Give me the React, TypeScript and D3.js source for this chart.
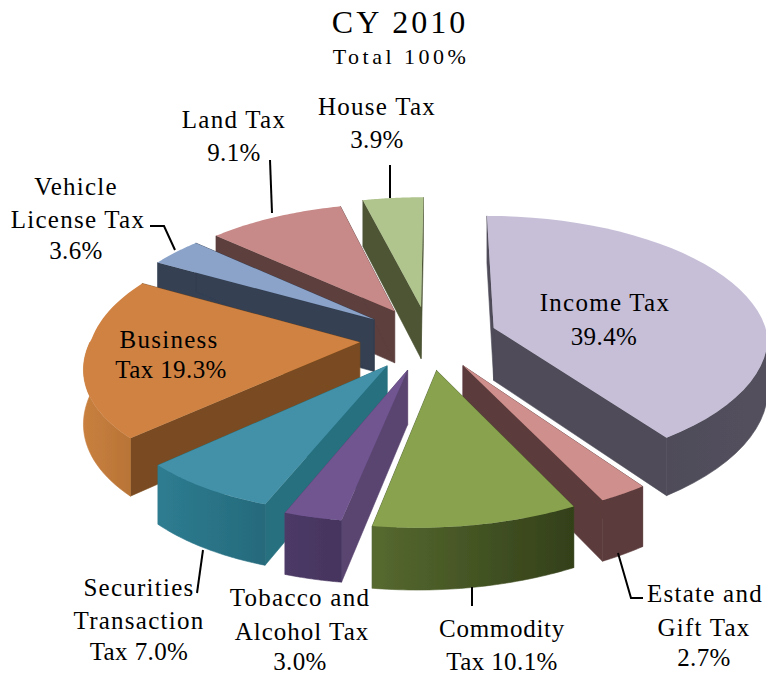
import React from "react";
import * as d3 from "d3";

const categories = ["Income Tax","Estate and Gift Tax","Commodity Tax","Tobacco and Alcohol Tax","Securities Transaction Tax","Business Tax","Vehicle License Tax","Land Tax","House Tax"];
const shares = [39.4,2.7,10.1,3.0,7.0,19.3,3.6,9.1,3.9];
const topColors = ["#C7BFD8","#CF8F8C","#88A24E","#6F5490","#4391A9","#D08242","#8BA3C9","#C88A88","#B0C48E"];
const cutColors = ["#4F4C59","#5C3B3C","#45552A","#5A4570","#27707F","#7A4C20","#343F52","#5D3F3E","#4D5536"];
const wallLeft = ["#4F4C59","#5C3B3C","#56692F","#4C3A66","#2E7C90","#C9803F","#343F52","#5D3F3E","#4D5536"];
const wallRight = ["#53505D","#5C3B3C","#334019","#45345E","#256A7C","#B87436","#343F52","#5D3F3E","#4D5536"];
const radiusFit = [0.98,1,1,0.97,0.95,0.96,0.97,0.97,1];
// the source's shares stop at 98% of the circle: the remaining angle is taken up on the back-left slices
const boundaryFitDeg = [0,1,0,0,0,1.5,6.2,6.2,6.9,7.2];

const titleText = "CY 2010";
const subtitleText = "Total 100%";
const labelLines: [string, number, number, number?][] = [
  ["Income Tax",605,311],["39.4%",604,345],
  ["Estate and",705,602],["Gift Tax",704,636],["2.7%",704,666],
  ["Commodity",502,637,0.7],["Tax 10.1%",502,670],
  ["Tobacco and",300,606],["Alcohol Tax",302,640,1],["3.0%",300,670],
  ["Securities",139,596],["Transaction",139,629],["Tax 7.0%",139,660],
  ["Business",169,348],["Tax 19.3%",171,378],
  ["Vehicle",76,195],["License Tax",78,228],["3.6%",76,259],
  ["Land Tax",234,128],["9.1%",234,161],
  ["House Tax",377,115],["3.9%",377,148],
];
const leaders: [number,number][][] = [
  [[270,160],[272,213]],
  [[390,165],[390,198]],
  [[150,226],[164,226],[175,250]],
  [[203,550],[197,593]],
  [[472,587],[472,606]],
  [[618,553],[631,598],[643,598]],
];

const W = 766, H = 677;
const cx = 429, cy = 338, R = 280, tR = 130, depth = 53, persp = 0.12, shear = 21, explode = 0.246;
const deg = Math.PI / 180;

function project(X: number, Y: number, Z: number): [number, number] {
  const s = 1 / (1 - persp * Y);
  return [cx + R * X * s - shear * Math.max(0, Y), cy + tR * Y * s + depth * Z * s];
}

export default function App() {
  const arcs = d3.pie<number>().sort(null).value((d) => d).endAngle(2 * Math.PI * d3.sum(shares) / 100)(shares);
  const line = d3.line();
  const slices = arcs.map((a, i) => {
    const a0 = a.startAngle + boundaryFitDeg[i] * deg;
    const a1 = a.endAngle + boundaryFitDeg[i + 1] * deg;
    const mid = (a0 + a1) / 2;
    const ox = explode * Math.sin(mid), oy = -explode * Math.cos(mid);
    const r = radiusFit[i];
    const pt = (th: number, z: number) => project(ox + r * Math.sin(th), oy - r * Math.cos(th), z);
    const apex = (z: number) => project(ox, oy, z);
    const angles = d3.range(0, 41).map((k) => a0 + ((a1 - a0) * k) / 40);
    const top = [apex(0), ...angles.map((t) => pt(t, 0))];
    const cut0 = [apex(0), pt(a0, 0), pt(a0, 1), apex(1)];
    const cut1 = [apex(0), pt(a1, 0), pt(a1, 1), apex(1)];
    const fr = angles.filter((t) => Math.cos(t) < 0);
    const wall = fr.length > 1 ? [...fr.map((t) => pt(t, 0)), ...fr.slice().reverse().map((t) => pt(t, 1))] : null;
    const xs = wall ? wall.map((p) => p[0]) : [0, 1];
    return { i, mid, order: -Math.cos(mid), top, cut0, cut1, wall, x0: d3.min(xs)!, x1: d3.max(xs)! };
  }).sort((p, q) => d3.ascending(p.order, q.order));

  return (
    <svg width={W} height={H} style={{ position: "absolute", left: 0, top: 0, background: "#fff" }} fontFamily="'Liberation Serif', serif" fill="#000">
      <defs>
        {slices.map((s) => (
          <linearGradient key={s.i} id={`w${s.i}`} gradientUnits="userSpaceOnUse" x1={s.x0} x2={s.x1} y1={0} y2={0}>
            <stop offset="0" stopColor={wallLeft[s.i]} />
            <stop offset="1" stopColor={wallRight[s.i]} />
          </linearGradient>
        ))}
        <filter id="soft" x="-5%" y="-5%" width="110%" height="110%">
          <feGaussianBlur stdDeviation="0.5" />
        </filter>
      </defs>
      <text x={400} y={33} textAnchor="middle" fontSize={32} letterSpacing={3}>{titleText}</text>
      <text x={401} y={64} textAnchor="middle" fontSize={22} letterSpacing={3.5}>{subtitleText}</text>
      <g filter="url(#soft)">
        {slices.map((s) => (
          <g key={s.i} data-name={categories[s.i]}>
            <path d={line(s.cut0 as any)! + "Z" + line(s.cut1 as any)! + "Z"} fill={cutColors[s.i]} fillRule="nonzero" stroke={cutColors[s.i]} strokeWidth={0.6} />
            {s.wall && <path d={line(s.wall as any)! + "Z"} fill={`url(#w${s.i})`} stroke={`url(#w${s.i})`} strokeWidth={0.6} />}
            <path d={line(s.top as any)! + "Z"} fill={topColors[s.i]} />
          </g>
        ))}
      </g>
      {leaders.map((l, i) => (
        <path key={i} d={line(l as any)!} fill="none" stroke="#000" strokeWidth={2} />
      ))}
      {labelLines.map(([t, x, y, sp], i) => (
        <text key={i} x={x} y={y} textAnchor="middle" fontSize={25} letterSpacing={sp ?? (t.includes("%") ? 0.4 : 1.25)}>{t}</text>
      ))}
    </svg>
  );
}
